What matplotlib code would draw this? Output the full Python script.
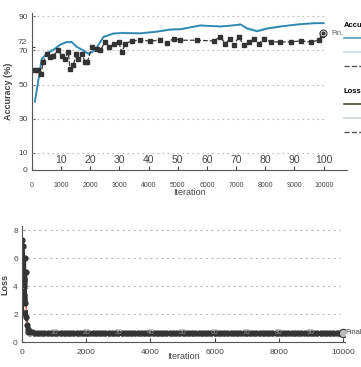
import matplotlib
matplotlib.use("Agg")
import matplotlib.pyplot as plt
from matplotlib.lines import Line2D

plt.rcParams['font.family'] = ['Liberation Sans', 'DejaVu Sans']

# accuracy curves (iteration, %)
acc_it = [100, 220, 330, 500, 790, 960, 1190, 1360, 1540, 1760, 1935, 2160, 2450,
          2800, 3140, 3710, 4290, 4740, 5090, 5770, 6460, 6910, 7150, 7380, 7720,
          8070, 8520, 9100, 9670, 10000]
acc_train = [40, 52.6, 65, 68, 71, 73.4, 75, 75, 72, 70, 68, 70, 78,
             80, 80.2, 80, 81, 82.2, 82.4, 84.7, 84, 84.7, 85.3, 82.8, 81.2,
             82.8, 84, 85.3, 86, 86]
acc_smooth = [41, 53.5, 64, 69, 71.5, 73, 74.5, 74.6, 72.5, 70.4, 68.6, 70.6, 77.4,
              79.6, 80.6, 80.3, 81.4, 82.6, 82.9, 84.3, 84.4, 84.9, 84.9, 83.5, 82.0,
              83.4, 84.4, 85.0, 85.6, 85.8]

test_it = [100, 220, 300, 390, 500, 620, 730, 900, 1020, 1130, 1250, 1300, 1420,
           1510, 1590, 1710, 1820, 1900, 2050, 2220, 2340, 2510, 2630, 2800, 2970,
           3080, 3200, 3430, 3710, 4060, 4400, 4630, 4860, 5090, 5660, 6230, 6460,
           6630, 6800, 6920, 7090, 7260, 7430, 7610, 7780, 7950, 8180, 8520, 8870,
           9210, 9560, 9840, 9950]
test_acc = [58.4, 58.4, 56, 63.3, 68, 66, 67, 70, 67, 65, 69, 59.4, 61.4,
            68, 65, 68, 63.3, 63.3, 72, 71, 70, 75, 72, 74, 75,
            69, 74, 75.6, 76, 75.6, 76, 74.6, 77, 76, 76, 75.6, 78,
            74, 77, 73, 78, 73, 75, 77, 74, 77, 75, 75, 75,
            75.6, 75, 76, 79]

# loss curves
loss_it = [0, 20, 40, 60, 80, 100, 120, 140, 160, 180, 200, 250, 300] + list(range(400, 10001, 100))
loss_val = [7.3, 2.1, 6.9, 4.5, 6.0, 2.8, 5.0, 1.8, 1.2, 0.9, 0.75, 0.72, 0.7] + [0.66] * 97
orange_it = [30, 60, 90, 130, 170, 250, 10000]
orange_val = [6.2, 6.6, 5.0, 2.5, 0.9, 0.7, 0.68]
low_it = [200, 10000]
low_val = [0.42, 0.42]

epoch_labels = ['10', '20', '30', '40', '50', '60', '70', '80', '90', '100']
epoch_pos = [1000, 2000, 3000, 4000, 5000, 6000, 7000, 8000, 9000, 10000]

c_blue = '#2b87b0'
c_light = '#a9d2e2'
c_dark = '#333333'

fig = plt.figure(figsize=(3.61, 3.67), dpi=100)

# --- accuracy panel ---
ax1 = fig.add_axes([0.0886, 0.5368, 0.8726, 0.428])
ax1.set_xlim(0, 10800)
ax1.set_ylim(0, 92)
ax1.hlines([10, 30, 50, 70, 90], 0, 10000, colors='#bbbbbb', linestyles=(0, (1.5, 3)), lw=0.8)
ax1.plot(acc_it, acc_smooth, color=c_light, lw=0.8)
ax1.plot(acc_it, acc_train, color=c_blue, lw=1.3)
ax1.plot(test_it, test_acc, color=c_dark, lw=0.9, ls='--', marker='s', ms=3.2)
ax1.plot([9990], [80], marker='o', ms=5, mfc='white', mec=c_dark, mew=0.8)
ax1.plot([9990], [80], marker='o', ms=2, color=c_dark)
ax1.text(10250, 80, 'Fin.', fontsize=5, va='center', color='#555555')
for lab, pos in zip(epoch_labels, epoch_pos):
    ax1.text(pos, 3, lab, fontsize=7.5, ha='center', va='bottom', color='#444444')
ax1.set_yticks([0, 10, 30, 50, 70, 72, 90], ['0', '10', '30', '50', '70', '', '90'])
# "72" sits just above the "70" label
ax1.annotate('72', xy=(0, 72), xycoords=('axes fraction', 'data'), xytext=(-4, 0.5),
             textcoords='offset points', ha='right', va='bottom', fontsize=6, color='#444444')
ax1.set_xticks([0, 1000, 2000, 3000, 4000, 5000, 6000, 7000, 8000, 9000, 10000])
ax1.tick_params(axis='x', direction='in', length=3, labelsize=5, pad=9, colors='#444444')
ax1.tick_params(axis='y', direction='in', length=2, labelsize=6, pad=3, colors='#444444')
ax1.set_ylabel('Accuracy (%)', fontsize=6.5, fontweight='bold', color='#444444', labelpad=4)
ax1.set_xlabel('Iteration', fontsize=6.5, color='#444444', labelpad=-1)
for s in ['top', 'right']:
    ax1.spines[s].set_visible(False)
for s in ['left', 'bottom']:
    ax1.spines[s].set_color('#555555')

# legends hanging off the right edge (only titles and line samples fit)
acc_handles = [Line2D([], [], color='#5aa0b8', lw=1.2),
               Line2D([], [], color='#c6dde4', lw=1.2),
               Line2D([], [], color='#555555', lw=1.0, ls='--')]
leg1 = fig.legend(acc_handles, ['', '', ''], title='Accuracy',
                  loc='upper left', bbox_to_anchor=(0.935, 0.958), frameon=False,
                  fontsize=5, title_fontsize=5.5, handlelength=3, labelspacing=1.0,
                  alignment='left')
leg1.get_title().set_fontweight('bold')
loss_handles = [Line2D([], [], color='#4a4a3a', lw=1.2),
                Line2D([], [], color='#d0d8d0', lw=1.2),
                Line2D([], [], color='#555555', lw=1.0, ls='--')]
leg2 = fig.legend(loss_handles, ['', '', ''], title='Loss',
                  loc='upper left', bbox_to_anchor=(0.935, 0.778), frameon=False,
                  fontsize=5, title_fontsize=5.5, handlelength=3, labelspacing=1.0,
                  alignment='left')
leg2.get_title().set_fontweight('bold')

# --- loss panel ---
ax2 = fig.add_axes([0.0609, 0.0681, 0.8947, 0.316])
ax2.set_xlim(0, 10060)
ax2.set_ylim(0, 8.3)
ax2.hlines([2, 4, 6, 8], 0, 9900, colors='#bbbbbb', linestyles=(0, (2, 3)), lw=0.8)
ax2.plot(low_it, low_val, color='#888888', lw=0.6, ls='--')
ax2.plot(orange_it, orange_val, color='#e0704c', lw=1.2)
ax2.plot(loss_it, loss_val, color=c_dark, lw=2.2, ls='--', marker='o', ms=3.5)
ax2.plot([10000], [0.66], marker='o', ms=6, mfc='#bbbbbb', mec=c_dark, mew=0.8)
ax2.text(10080, 0.66, 'Final', fontsize=5.5, va='center', color='#444444', clip_on=False)
for lab, pos in zip(epoch_labels[:-1], epoch_pos[:-1]):
    ax2.text(pos, 0.66, lab, fontsize=5, ha='center', va='center', color='#999999')
ax2.set_yticks([0, 2, 4, 6, 8])
ax2.set_xticks([0, 2000, 4000, 6000, 8000, 10000])
ax2.tick_params(axis='x', direction='in', length=3, labelsize=6, pad=5, colors='#444444')
ax2.tick_params(axis='y', direction='in', length=2, labelsize=6, pad=3, colors='#444444')
ax2.set_ylabel('Loss', fontsize=6.5, fontweight='bold', color='#444444', labelpad=3)
ax2.set_xlabel('Iteration', fontsize=6.5, color='#444444', labelpad=-3)
for s in ['top', 'right']:
    ax2.spines[s].set_visible(False)
for s in ['left', 'bottom']:
    ax2.spines[s].set_color('#555555')

fig.savefig('out.png', dpi=100)
